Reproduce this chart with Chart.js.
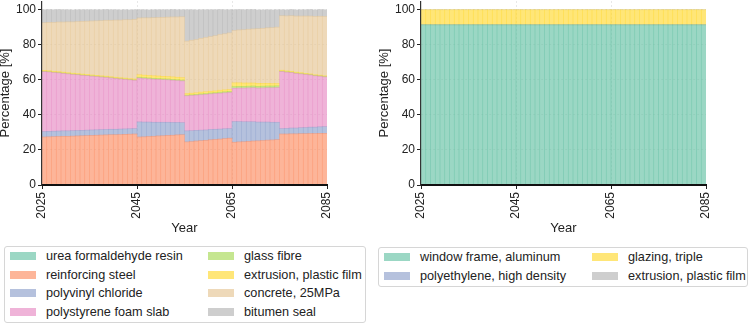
<!DOCTYPE html>
<html>
<head>
<meta charset="utf-8">
<script src="https://cdn.jsdelivr.net/npm/chart.js@4.4.1/dist/chart.umd.min.js"></script>
<style>
  body { margin: 0; width: 750px; height: 324px; background: #fff; position: relative; overflow: hidden; font-family: 'Liberation Sans', Arial, sans-serif; }
  .plot { position: absolute; top: 1px; width: 375px; height: 244px; }
  .legend { position: absolute; box-sizing: border-box; border: 1px solid #d6d6d6; border-radius: 3px; display: grid; grid-auto-flow: column; padding: 0 0 0 5px; font-size: 12.7px; color: #222; }
  .legend .item { display: flex; align-items: center; height: 18.5px; white-space: nowrap; }
  .legend .patch { width: 26px; height: 8px; margin-right: 10px; flex: none; }
  #legendLeft { left: 4px; top: 246px; width: 362px; height: 77px; grid-template-columns: 198px auto; grid-template-rows: repeat(4, 18.5px); }
  #legendRight { left: 378px; top: 247px; width: 370px; height: 40px; grid-template-columns: 208px auto; grid-template-rows: repeat(2, 18.5px); }
</style>
</head>
<body>
<div class="plot" style="left:-4px"><canvas id="chartLeft"></canvas></div>
<div class="plot" style="left:375px"><canvas id="chartRight"></canvas></div>
<div class="legend" id="legendLeft"></div>
<div class="legend" id="legendRight"></div>
<script>
// years (each bar covers one year)
var years = [
  2025, 2026, 2027, 2028, 2029, 2030, 2031, 2032, 2033, 2034,
  2035, 2036, 2037, 2038, 2039, 2040, 2041, 2042, 2043, 2044,
  2045, 2046, 2047, 2048, 2049, 2050, 2051, 2052, 2053, 2054,
  2055, 2056, 2057, 2058, 2059, 2060, 2061, 2062, 2063, 2064,
  2065, 2066, 2067, 2068, 2069, 2070, 2071, 2072, 2073, 2074,
  2075, 2076, 2077, 2078, 2079, 2080, 2081, 2082, 2083, 2084
];
var xTicks = [2025, 2045, 2065, 2085];
var yTicks = [0, 20, 40, 60, 80, 100];

// left panel shares [%]
var ureaResin = [
  0, 0, 0, 0, 0, 0, 0, 0, 0, 0,
  0, 0, 0, 0, 0, 0, 0, 0, 0, 0,
  0, 0, 0, 0, 0, 0, 0, 0, 0, 0,
  0, 0, 0, 0, 0, 0, 0, 0, 0, 0,
  0, 0, 0, 0, 0, 0, 0, 0, 0, 0,
  0, 0, 0, 0, 0, 0, 0, 0, 0, 0
];
var reinforcingSteel = [
  27.4, 27.5, 27.6, 27.7, 27.8, 27.8, 27.9, 28.0, 28.1, 28.2,
  28.3, 28.4, 28.5, 28.6, 28.7, 28.7, 28.8, 28.9, 29.0, 29.1,
  27.4, 27.5, 27.7, 27.8, 28.0, 28.1, 28.3, 28.4, 28.6, 28.7,
  24.6, 24.8, 25.1, 25.3, 25.5, 25.8, 26.0, 26.2, 26.5, 26.7,
  24.4, 24.6, 24.7, 24.9, 25.1, 25.2, 25.4, 25.6, 25.7, 25.9,
  29.1, 29.1, 29.2, 29.2, 29.3, 29.3, 29.4, 29.4, 29.5, 29.5
];
var polyvinylChloride = [
  3.1, 3.1, 3.1, 3.1, 3.1, 3.1, 3.1, 3.1, 3.1, 3.1,
  3.1, 3.1, 3.1, 3.1, 3.1, 3.1, 3.1, 3.1, 3.1, 3.1,
  8.6, 8.4, 8.2, 8.0, 7.8, 7.7, 7.5, 7.3, 7.1, 6.9,
  6.3, 6.2, 6.1, 6.0, 5.9, 5.9, 5.8, 5.7, 5.6, 5.5,
  11.8, 11.6, 11.4, 11.2, 11.0, 10.7, 10.5, 10.3, 10.1, 9.9,
  3.1, 3.2, 3.3, 3.3, 3.4, 3.5, 3.6, 3.6, 3.7, 3.8
];
var polystyreneSlab = [
  34.2, 33.9, 33.5, 33.2, 32.8, 32.5, 32.1, 31.8, 31.4, 31.1,
  30.7, 30.4, 30.0, 29.7, 29.3, 29.0, 28.6, 28.3, 27.9, 27.6,
  25.0, 24.9, 24.7, 24.6, 24.5, 24.3, 24.2, 24.1, 23.9, 23.8,
  20.0, 20.1, 20.1, 20.2, 20.3, 20.3, 20.4, 20.5, 20.5, 20.6,
  19.0, 19.1, 19.2, 19.3, 19.4, 19.4, 19.5, 19.6, 19.7, 19.8,
  32.6, 32.1, 31.7, 31.2, 30.7, 30.3, 29.8, 29.3, 28.9, 28.4
];
var glassFibre = [
  0.2, 0.2, 0.2, 0.2, 0.2, 0.2, 0.2, 0.2, 0.2, 0.2,
  0.2, 0.2, 0.2, 0.2, 0.2, 0.2, 0.2, 0.2, 0.2, 0.2,
  0.5, 0.5, 0.5, 0.5, 0.5, 0.5, 0.5, 0.5, 0.5, 0.5,
  0.4, 0.4, 0.4, 0.5, 0.5, 0.5, 0.5, 0.6, 0.6, 0.6,
  1.0, 1.0, 1.0, 1.0, 1.0, 1.0, 1.0, 1.0, 1.0, 1.0,
  0.2, 0.2, 0.2, 0.2, 0.2, 0.2, 0.2, 0.2, 0.2, 0.2
];
var extrusionFilm = [
  0.5, 0.5, 0.5, 0.5, 0.5, 0.5, 0.5, 0.5, 0.5, 0.5,
  0.5, 0.5, 0.5, 0.5, 0.5, 0.5, 0.5, 0.5, 0.5, 0.5,
  1.4, 1.4, 1.4, 1.4, 1.4, 1.4, 1.4, 1.4, 1.4, 1.4,
  0.9, 0.9, 0.9, 1.0, 1.0, 1.0, 1.0, 1.1, 1.1, 1.1,
  2.1, 2.0, 1.9, 1.8, 1.7, 1.7, 1.6, 1.5, 1.4, 1.3,
  0.5, 0.5, 0.5, 0.5, 0.5, 0.4, 0.4, 0.4, 0.4, 0.4
];
var concrete25 = [
  27.2, 27.6, 27.9, 28.3, 28.6, 29.0, 29.3, 29.7, 30.1, 30.4,
  30.8, 31.1, 31.5, 31.9, 32.2, 32.6, 32.9, 33.3, 33.6, 34.0,
  32.4, 32.7, 32.9, 33.2, 33.4, 33.7, 33.9, 34.2, 34.4, 34.7,
  29.9, 30.2, 30.4, 30.7, 31.0, 31.2, 31.5, 31.8, 32.0, 32.3,
  29.9, 30.2, 30.4, 30.7, 30.9, 31.2, 31.4, 31.7, 31.9, 32.2,
  31.1, 31.4, 31.7, 32.0, 32.3, 32.7, 33.0, 33.3, 33.6, 33.9
];
var bitumenSeal = [
  7.4, 7.3, 7.2, 7.1, 7.0, 6.9, 6.8, 6.7, 6.6, 6.5,
  6.4, 6.3, 6.2, 6.1, 6.0, 5.9, 5.8, 5.7, 5.6, 5.5,
  4.7, 4.6, 4.5, 4.5, 4.4, 4.3, 4.2, 4.2, 4.1, 4.0,
  17.9, 17.4, 16.9, 16.3, 15.8, 15.3, 14.8, 14.2, 13.7, 13.2,
  11.8, 11.6, 11.4, 11.2, 11.0, 10.7, 10.5, 10.3, 10.1, 9.9,
  3.4, 3.4, 3.5, 3.5, 3.6, 3.6, 3.7, 3.7, 3.8, 3.8
];

// right panel shares [%]
var windowFrame = [
  91.4, 91.4, 91.4, 91.4, 91.4, 91.4, 91.4, 91.4, 91.4, 91.4,
  91.4, 91.4, 91.4, 91.4, 91.4, 91.4, 91.4, 91.4, 91.4, 91.4,
  91.4, 91.4, 91.4, 91.4, 91.4, 91.4, 91.4, 91.4, 91.4, 91.4,
  91.4, 91.4, 91.4, 91.4, 91.4, 91.4, 91.4, 91.4, 91.4, 91.4,
  91.4, 91.4, 91.4, 91.4, 91.4, 91.4, 91.4, 91.4, 91.4, 91.4,
  91.4, 91.4, 91.4, 91.4, 91.4, 91.4, 91.4, 91.4, 91.4, 91.4
];
var polyethyleneHD = [
  0, 0, 0, 0, 0, 0, 0, 0, 0, 0,
  0, 0, 0, 0, 0, 0, 0, 0, 0, 0,
  0, 0, 0, 0, 0, 0, 0, 0, 0, 0,
  0, 0, 0, 0, 0, 0, 0, 0, 0, 0,
  0, 0, 0, 0, 0, 0, 0, 0, 0, 0,
  0, 0, 0, 0, 0, 0, 0, 0, 0, 0
];
var glazingTriple = [
  8.6, 8.6, 8.6, 8.6, 8.6, 8.6, 8.6, 8.6, 8.6, 8.6,
  8.6, 8.6, 8.6, 8.6, 8.6, 8.6, 8.6, 8.6, 8.6, 8.6,
  8.6, 8.6, 8.6, 8.6, 8.6, 8.6, 8.6, 8.6, 8.6, 8.6,
  8.6, 8.6, 8.6, 8.6, 8.6, 8.6, 8.6, 8.6, 8.6, 8.6,
  8.6, 8.6, 8.6, 8.6, 8.6, 8.6, 8.6, 8.6, 8.6, 8.6,
  8.6, 8.6, 8.6, 8.6, 8.6, 8.6, 8.6, 8.6, 8.6, 8.6
];
var extrusionFilmRight = [
  0, 0, 0, 0, 0, 0, 0, 0, 0, 0,
  0, 0, 0, 0, 0, 0, 0, 0, 0, 0,
  0, 0, 0, 0, 0, 0, 0, 0, 0, 0,
  0, 0, 0, 0, 0, 0, 0, 0, 0, 0,
  0, 0, 0, 0, 0, 0, 0, 0, 0, 0,
  0, 0, 0, 0, 0, 0, 0, 0, 0, 0
];

// Set2 colours, drawn at 65% alpha
var green = 'rgba(102, 194, 165, 0.65)';
var orange = 'rgba(252, 141, 98, 0.65)';
var blue = 'rgba(141, 160, 203, 0.65)';
var pink = 'rgba(231, 138, 195, 0.65)';
var lime = 'rgba(166, 216, 84, 0.65)';
var yellow = 'rgba(255, 217, 47, 0.65)';
var tan = 'rgba(229, 196, 148, 0.65)';
var grey = 'rgba(179, 179, 179, 0.65)';

var gridColor = 'rgba(0, 0, 0, 0.09)';

Chart.defaults.font.family = "'Liberation Sans', Arial, sans-serif";
Chart.defaults.color = '#222';

function buildChart(canvasId, legendId, series) {
  var datasets = series.map(function (s) {
    return {
      label: s[0],
      data: s[1],
      backgroundColor: s[2],
      borderWidth: 0,
      barPercentage: 1,
      categoryPercentage: 1
    };
  });

  var chart = new Chart(document.getElementById(canvasId), {
    type: 'bar',
    data: {
      labels: years.map(function (y) { return y + 0.5; }),
      datasets: datasets
    },
    options: {
      responsive: true,
      maintainAspectRatio: false,
      animation: false,
      layout: { padding: { top: 0, right: 44, bottom: 0, left: 0 } },
      plugins: { legend: { display: false }, tooltip: { enabled: false } },
      scales: {
        x: {
          type: 'linear',
          stacked: true,
          min: 2025,
          max: 2085,
          offset: false,
          afterBuildTicks: function (axis) {
            axis.ticks = xTicks.map(function (v) { return { value: v }; });
          },
          afterFit: function (axis) {
            axis.height = 60;
            axis.paddingLeft = 0;
            axis.paddingRight = 0;
          },
          ticks: {
            minRotation: 90,
            maxRotation: 90,
            padding: 3,
            color: '#222',
            font: { size: 12 },
            callback: function (v) { return String(v); }
          },
          grid: {
            offset: false,
            // no grid line on the two plot edges
            color: function (ctx) {
              var v = ctx.tick ? ctx.tick.value : null;
              return (v === xTicks[0] || v === xTicks[xTicks.length - 1]) ? 'rgba(0,0,0,0)' : gridColor;
            },
            tickColor: '#222',
            tickLength: 4
          },
          border: { color: '#111', width: 2, dash: [2, 2], z: 1 },
          title: { display: true, text: 'Year', color: '#222', font: { size: 13 }, padding: { top: 0, bottom: 9 } }
        },
        y: {
          stacked: true,
          min: 0,
          max: 105,
          afterBuildTicks: function (axis) {
            axis.ticks = yTicks.map(function (v) { return { value: v }; });
          },
          afterFit: function (axis) {
            axis.width = 46;
            axis.paddingTop = 0;
            axis.paddingBottom = 0;
          },
          ticks: { padding: 2, color: '#222', font: { size: 12 } },
          grid: { color: gridColor, tickColor: '#222', tickLength: 4 },
          border: { color: '#333', width: 1.2, dash: [2, 2], z: 1 },
          title: { display: true, text: 'Percentage [%]', color: '#222', font: { size: 13 }, padding: { top: 2, bottom: 0 } }
        }
      }
    }
  });

  // legend, filled column by column
  var box = document.getElementById(legendId);
  chart.data.datasets.forEach(function (ds) {
    var item = document.createElement('div');
    item.className = 'item';
    var patch = document.createElement('span');
    patch.className = 'patch';
    patch.style.background = ds.backgroundColor;
    item.appendChild(patch);
    item.appendChild(document.createTextNode(ds.label));
    box.appendChild(item);
  });
  return chart;
}

buildChart('chartLeft', 'legendLeft', [
  ['urea formaldehyde resin', ureaResin, green],
  ['reinforcing steel', reinforcingSteel, orange],
  ['polyvinyl chloride', polyvinylChloride, blue],
  ['polystyrene foam slab', polystyreneSlab, pink],
  ['glass fibre', glassFibre, lime],
  ['extrusion, plastic film', extrusionFilm, yellow],
  ['concrete, 25MPa', concrete25, tan],
  ['bitumen seal', bitumenSeal, grey]
]);

buildChart('chartRight', 'legendRight', [
  ['window frame, aluminum', windowFrame, green],
  ['polyethylene, high density', polyethyleneHD, blue],
  ['glazing, triple', glazingTriple, yellow],
  ['extrusion, plastic film', extrusionFilmRight, grey]
]);
</script>
</body>
</html>
